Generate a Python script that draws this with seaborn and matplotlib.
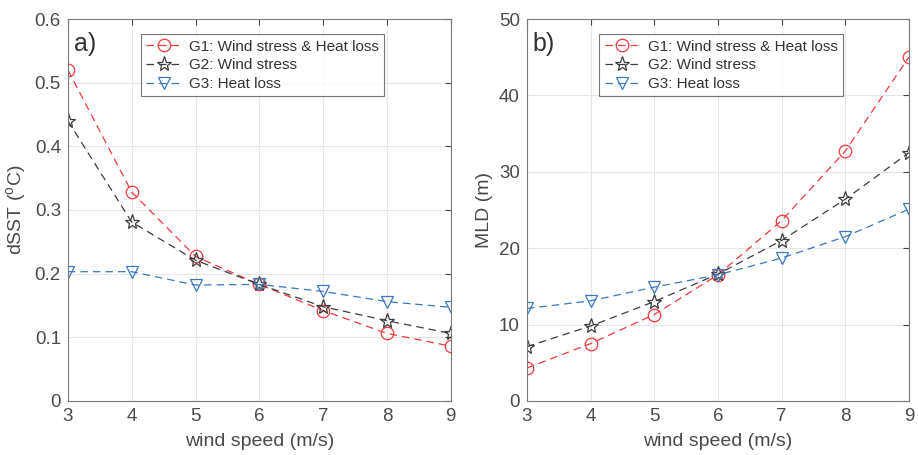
import seaborn as sns
import numpy as np
import pandas as pd
import matplotlib
matplotlib.use('Agg')
import matplotlib.pyplot as plt

wind = [3, 4, 5, 6, 7, 8, 9]
labels = ['G1: Wind stress & Heat loss', 'G2: Wind stress', 'G3: Heat loss']

dsst_g1 = [0.520, 0.328, 0.227, 0.183, 0.142, 0.106, 0.086]
dsst_g2 = [0.440, 0.281, 0.221, 0.183, 0.148, 0.126, 0.106]
dsst_g3 = [0.203, 0.203, 0.182, 0.183, 0.172, 0.156, 0.147]

mld_g1 = [4.3, 7.5, 11.3, 16.5, 23.6, 32.7, 45.0]
mld_g2 = [7.1, 9.8, 13.0, 16.6, 21.0, 26.4, 32.5]
mld_g3 = [12.1, 13.1, 14.9, 16.5, 18.7, 21.5, 25.1]

colors = ['#f0393f', '#3c3c3c', '#3a78c0']
markers = ['o', '*', 'v']

sns.set_style('white')
plt.rcParams['font.family'] = ['Liberation Sans', 'DejaVu Sans']
plt.rcParams['mathtext.fontset'] = 'custom'
plt.rcParams['mathtext.rm'] = 'Liberation Sans'
txt = '#4a4a4a'


def make_df(g1, g2, g3):
    rows = []
    for lab, vals in zip(labels, [g1, g2, g3]):
        for w, v in zip(wind, vals):
            rows.append({'wind': w, 'val': v, 'group': lab})
    return pd.DataFrame(rows)


def draw_panel(ax, df, ylim, yticks, ylabel, tag):
    for lab, c, m in zip(labels, colors, markers):
        sub = df[df['group'] == lab]
        sns.lineplot(data=sub, x='wind', y='val', ax=ax, color=c, linestyle=(0, (6, 4)),
                     linewidth=0.9, marker=m, markersize=11 if m == '*' else 9,
                     markerfacecolor='none', markeredgecolor=c, markeredgewidth=0.9,
                     label=lab)
    ax.set_xlim(3, 9)
    ax.set_ylim(*ylim)
    ax.set_xticks(wind)
    ax.set_yticks(yticks)
    ax.grid(True, color='#e6e6e6', linewidth=0.8)
    ax.tick_params(direction='in', length=4, colors=txt, labelsize=13.5, top=True, right=True,
                   labelcolor=txt, pad=5)
    for s in ax.spines.values():
        s.set_color('#7a7a7a')
        s.set_linewidth(0.8)
    ax.set_xlabel('wind speed (m/s)', fontsize=14, color=txt, labelpad=6)
    ax.set_ylabel(ylabel, fontsize=14, color=txt)
    ax.text(0.015, 0.965, tag, transform=ax.transAxes, fontsize=18, va='top', color='#333333')
    leg = ax.legend(loc='upper left', bbox_to_anchor=(0.17, 0.98), fontsize=11,
                    frameon=True, fancybox=False, edgecolor='#555555', handlelength=2.3,
                    borderpad=0.35, labelspacing=0.3, handletextpad=0.5)
    leg.get_frame().set_linewidth(0.8)
    for t in leg.get_texts():
        t.set_color('#333333')


fig = plt.figure(figsize=(9.18, 4.55), dpi=100)
ax1 = fig.add_axes([0.074, 0.119, 0.417, 0.839])
ax2 = fig.add_axes([0.574, 0.119, 0.416, 0.839])

draw_panel(ax1, make_df(dsst_g1, dsst_g2, dsst_g3), (0, 0.6),
           [0, 0.1, 0.2, 0.3, 0.4, 0.5, 0.6], 'dSST ($^{\\rm o}$C)', 'a)')
draw_panel(ax2, make_df(mld_g1, mld_g2, mld_g3), (0, 50),
           [0, 10, 20, 30, 40, 50], 'MLD (m)', 'b)')
ax1.set_yticklabels(['0', '0.1', '0.2', '0.3', '0.4', '0.5', '0.6'])

fig.savefig('out.png', dpi=100)
